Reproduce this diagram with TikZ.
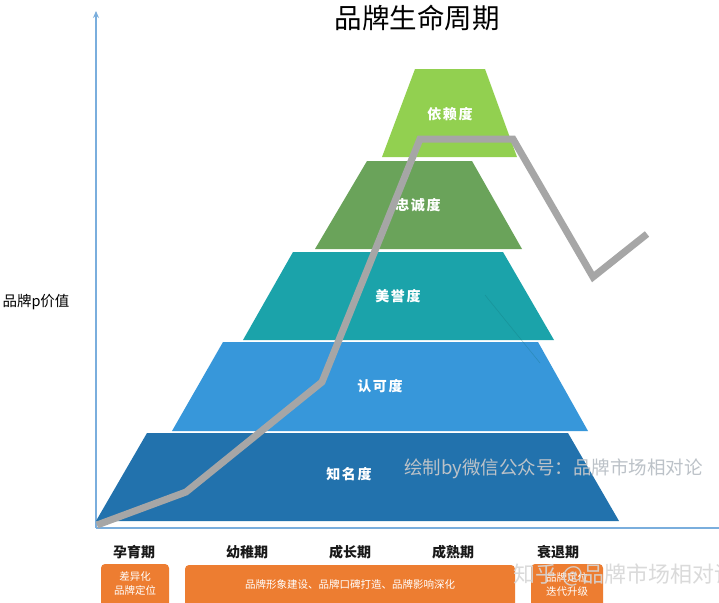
\documentclass[tikz,border=0pt]{standalone}
\usepackage{fontspec}
\setmainfont{Noto Sans CJK SC}
\usetikzlibrary{arrows.meta}
\definecolor{axisblue}{HTML}{7AAEDD}
\definecolor{cA}{HTML}{92D050}
\definecolor{cB}{HTML}{6AA35A}
\definecolor{cC}{HTML}{1BA3AA}
\definecolor{cD}{HTML}{3797DA}
\definecolor{cE}{HTML}{2272AD}
\definecolor{curve}{HTML}{A6A6A6}
\definecolor{boxorange}{HTML}{ED7D31}
\definecolor{wmgray}{HTML}{BCC2C8}
\definecolor{zhgray}{HTML}{D6D6D6}
\begin{document}
\begin{tikzpicture}[x=1pt,y=-1pt,
  lbl/.style={text=white,inner sep=0pt,font=\fontsize{14}{14}\selectfont\bfseries\addfontfeature{LetterSpace=12}},
  stage/.style={text=black!90,inner sep=0pt,font=\fontsize{14}{14}\selectfont\bfseries},
  boxtxt/.style={text=white,inner sep=0pt,align=center,font=\fontsize{10.5}{14}\selectfont},
  obox/.style={fill=boxorange,draw=none,rounded corners=4pt},
  axisline/.style={draw=axisblue,line width=1.6pt}]
\useasboundingbox (0,0) rectangle (719,602);
\clip (0,0) rectangle (719,602);
\fill[white] (0,0) rectangle (719,602);

% axes
\coordinate (O) at (96,528);
\coordinate (ytop) at (96,11);
\coordinate (xend) at (719,528);
\draw[axisline,-{Stealth[length=7pt,width=6pt]}] (O) -- (ytop);
\draw[axisline] (O) -- (xend);

% title and axis label
\node[inner sep=0pt,font=\fontsize{27.5}{27.5}\selectfont] (title) at (417,18) {品牌生命周期};
\node[inner sep=0pt,font=\fontsize{14.5}{14.5}\selectfont] (ylab) at (36,302) {品牌p价值};

% pyramid layers
\fill[cE] (96,521) -- (147,433) -- (568,433) -- (619,521) -- cycle;
\fill[cD] (172,431) -- (223,342) -- (538,342) -- (588,431) -- cycle;
\fill[cC] (243,340) -- (293,252) -- (503,252) -- (554,340) -- cycle;
\fill[cB] (315,249) -- (367,161) -- (472,161) -- (522,249) -- cycle;
\fill[cA] (382,157) -- (415,69) -- (485,69) -- (517,157) -- cycle;
\coordinate (fa) at (485,295);
\coordinate (fb) at (540,363);
\draw[cC!70!black,line width=0.6pt,opacity=0.3] (fa) -- (fb);

% layer labels
\node[lbl] (l1) at (450,114) {依赖度};
\node[lbl] (l2) at (418,205) {忠诚度};
\node[lbl] (l3) at (398,296) {美誉度};
\node[lbl] (l4) at (380,386) {认可度};
\node[lbl] (l5) at (349,474) {知名度};

% value curve
\coordinate (p0) at (97,525);
\coordinate (p1) at (186,492);
\coordinate (p2) at (322,382);
\coordinate (p3) at (420,139);
\coordinate (p4) at (513,139);
\coordinate (p5) at (593,277);
\coordinate (p6) at (647,234);
\draw[curve,line width=7pt,miter limit=10] (p0) -- (p1) -- (p2) -- (p3) -- (p4) -- (p5) -- (p6);

% inner watermark
\node[anchor=west,inner sep=0pt,text=wmgray,font=\fontsize{18.5}{18.5}\selectfont] (wm1) at (404,469) {绘制by微信公众号：品牌市场相对论};

% stages
\node[stage] (s1) at (134,552) {孕育期};
\node[stage] (s2) at (247,552) {幼稚期};
\node[stage] (s3) at (350,552) {成长期};
\node[stage] (s4) at (453,552) {成熟期};
\node[stage] (s5) at (558,552) {衰退期};

% orange boxes
\fill[obox] (101,564) rectangle (169,610);
\fill[obox] (185,565) rectangle (515,610);
\fill[obox] (531,564) rectangle (603,610);
\node[boxtxt] (b1) at (135,584) {差异化\\品牌定位};
\node[boxtxt] (b2) at (350,585) {品牌形象建设、品牌口碑打造、品牌影响深化};
\node[boxtxt] (b3) at (567,584) {品牌定位\\迭代升级};

% zhihu watermark
\node[anchor=west,inner sep=0pt,text=zhgray,opacity=0.9,font=\fontsize{22}{22}\selectfont] (wm2) at (513,575) {知乎 @品牌市场相对论};
\end{tikzpicture}
\end{document}
